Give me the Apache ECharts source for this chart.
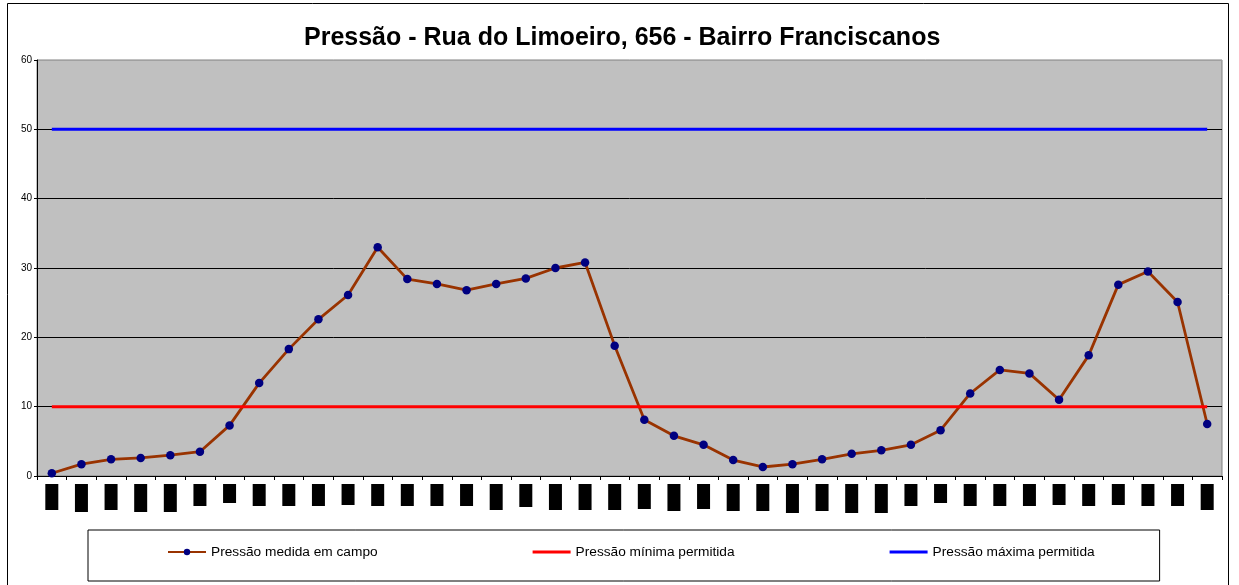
<!DOCTYPE html>
<html>
<head>
<meta charset="utf-8">
<script src="https://cdn.jsdelivr.net/npm/echarts@6/dist/echarts.min.js"></script>
<style>
html,body{margin:0;padding:0;background:#fff;}
#chart{width:1239px;height:585px;}
</style>
</head>
<body>
<div id="chart"></div>
<script>
// ---- data ----
const categories = ["1","2","3","4","5","6","7","8","9","10","11","12","13","14","15","16","17","18","19","20",
  "21","22","23","24","25","26","27","28","29","30","31","32","33","34","35","36","37","38","39","40"];
const pressaoMedida = [0.4,1.7,2.4,2.6,3.0,3.5,7.3,13.4,18.3,22.6,26.1,33.0,28.4,27.7,26.8,27.7,28.5,30.0,30.8,18.8,
  8.1,5.8,4.5,2.3,1.3,1.7,2.4,3.2,3.7,4.5,6.6,11.9,15.3,14.8,11.0,17.4,27.6,29.5,25.1,7.5];
const pressaoMinima = [10,10,10,10,10,10,10,10,10,10,10,10,10,10,10,10,10,10,10,10,
  10,10,10,10,10,10,10,10,10,10,10,10,10,10,10,10,10,10,10,10];
const pressaoMaxima = [50,50,50,50,50,50,50,50,50,50,50,50,50,50,50,50,50,50,50,50,
  50,50,50,50,50,50,50,50,50,50,50,50,50,50,50,50,50,50,50,50];
const yTicks = [0,10,20,30,40,50,60];

// ---- style only: heights of the obscured (black) tick-label boxes ----
const labelBoxHeights = [26,28,26,28,28,22,19,22,22,22,21,22,22,22,22,26,23,26,26,26,
  25,27,25,27,27,29,27,29,29,22,19,22,22,22,21,22,21,22,22,26];

const rich = {};
labelBoxHeights.forEach(h => {
  rich['h' + h] = {width: 13, height: h, backgroundColor: '#000', color: '#000', fontSize: 8, align: 'center'};
});

const chart = echarts.init(document.getElementById('chart'), null, {renderer: 'canvas'});
const FONT = '"Liberation Sans", Arial, sans-serif';

chart.setOption({
  animation: false,
  backgroundColor: '#fff',
  textStyle: {fontFamily: FONT},
  title: {
    text: 'Pressão - Rua do Limoeiro, 656 - Bairro Franciscanos',
    left: 304, top: 26, padding: 0,
    textStyle: {fontFamily: FONT, fontSize: 25, fontWeight: 'bold', color: '#000'}
  },
  graphic: [{
    type: 'rect', silent: true, z: -1,
    shape: {x: 7.5, y: 3.5, width: 1221, height: 620},
    style: {fill: 'none', stroke: '#000', lineWidth: 1}
  }],
  legend: {
    left: 88, top: 530,
    padding: [15, 65, 22, 79],
    itemGap: 155, itemWidth: 38, itemHeight: 8,
    borderColor: '#000', borderWidth: 1,
    textStyle: {fontFamily: FONT, fontSize: 13.7, color: '#000'},
    data: [
      {name: 'Pressão medida em campo'},
      {name: 'Pressão mínima permitida', icon: 'path://M0,0 L38,0 L38,3 L0,3 Z', itemStyle: {color: '#FF0000'}},
      {name: 'Pressão máxima permitida', icon: 'path://M0,0 L38,0 L38,3 L0,3 Z', itemStyle: {color: '#0000FF'}}
    ]
  },
  grid: {
    left: 37, right: 17, top: 60, bottom: 109,
    show: true, backgroundColor: '#C0C0C0', borderColor: '#808080', borderWidth: 1
  },
  xAxis: {
    type: 'category', data: categories, boundaryGap: true,
    axisLine: {show: true, lineStyle: {color: '#000', width: 1}},
    axisTick: {show: true, length: 4, alignWithLabel: false, lineStyle: {color: '#000'}, interval: 0},
    axisLabel: {
      interval: 0, margin: 8,
      formatter: (v, i) => '{h' + labelBoxHeights[i] + '|' + v + '}',
      rich: rich
    },
    splitLine: {show: false}
  },
  yAxis: {
    type: 'value', min: yTicks[0], max: yTicks[yTicks.length - 1], interval: 10,
    axisLine: {show: true, lineStyle: {color: '#000', width: 1}},
    axisTick: {show: true, length: 3, lineStyle: {color: '#000'}},
    axisLabel: {fontFamily: FONT, fontSize: 10, color: '#000', margin: 5},
    splitLine: {show: true, lineStyle: {color: ['#000','#000','#000','#000','#000','#000','#a0a0a0'], width: 1}}
  },
  series: [
    {
      name: 'Pressão medida em campo', type: 'line', data: pressaoMedida,
      symbol: 'circle', symbolSize: 8.5, showSymbol: true,
      lineStyle: {color: '#993300', width: 2.8},
      itemStyle: {color: '#000080', borderWidth: 0},
      z: 3
    },
    {
      name: 'Pressão mínima permitida', type: 'line', data: pressaoMinima,
      symbol: 'none', lineStyle: {color: '#FF0000', width: 3},
      itemStyle: {color: '#FF0000'}, z: 4
    },
    {
      name: 'Pressão máxima permitida', type: 'line', data: pressaoMaxima,
      symbol: 'none', lineStyle: {color: '#0000FF', width: 3},
      itemStyle: {color: '#0000FF'}, z: 4
    }
  ]
});
</script>
</body>
</html>
